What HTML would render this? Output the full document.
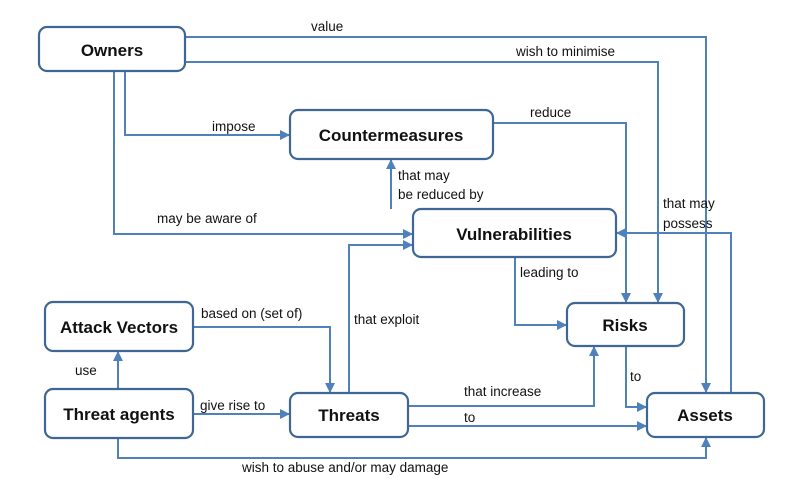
<!DOCTYPE html>
<html><head><meta charset="utf-8"><style>
body{margin:0;background:#fff}
svg{display:block}
text{font-family:"Liberation Sans",sans-serif;fill:#111}
.b{font-weight:bold;font-size:17px;text-anchor:middle}
.l{font-size:13.5px}
.bx{fill:#fff;stroke:#3f6694;stroke-width:2.2}
.ln{fill:none;stroke:#4f81bd;stroke-width:2}
</style></head><body>
<svg width="800" height="489" viewBox="0 0 800 489">
<defs><marker id="a" markerWidth="10" markerHeight="10" refX="9" refY="5" orient="auto" markerUnits="userSpaceOnUse"><path d="M0,0 L10,5 L0,10z" fill="#4f81bd"/></marker></defs>
<g class="ln">
<path d="M185,37 H706 V392" marker-end="url(#a)"/>
<path d="M185,62 H658 V302" marker-end="url(#a)"/>
<path d="M493,123 H626 V302" marker-end="url(#a)"/>
<path d="M125,71 V135 H289" marker-end="url(#a)"/>
<path d="M114,71 V234 H412" marker-end="url(#a)"/>
<path d="M391,209 V160" marker-end="url(#a)"/>
<path d="M731,393 V233 H617" marker-end="url(#a)"/>
<path d="M515,257 V325 H566" marker-end="url(#a)"/>
<path d="M349,393 V245 H412" marker-end="url(#a)"/>
<path d="M193,327 H330 V392" marker-end="url(#a)"/>
<path d="M118,389 V352" marker-end="url(#a)"/>
<path d="M193,414 H289" marker-end="url(#a)"/>
<path d="M408,406 H594 V347" marker-end="url(#a)"/>
<path d="M408,426 H646" marker-end="url(#a)"/>
<path d="M626,346 V407 H646" marker-end="url(#a)"/>
<path d="M118,438 V458 H706 V438" marker-end="url(#a)"/>
</g>
<rect class="bx" x="39" y="27" width="146" height="44" rx="8"/>
<rect class="bx" x="290" y="110" width="203" height="49" rx="8"/>
<rect class="bx" x="413" y="209" width="203" height="48" rx="8"/>
<rect class="bx" x="567" y="303" width="117" height="43" rx="8"/>
<rect class="bx" x="647" y="393" width="117" height="44" rx="8"/>
<rect class="bx" x="45" y="302" width="148" height="49" rx="8"/>
<rect class="bx" x="45" y="389" width="148" height="49" rx="8"/>
<rect class="bx" x="290" y="393" width="118" height="44" rx="8"/>
<text class="b" x="112" y="56">Owners</text>
<text class="b" x="391" y="141">Countermeasures</text>
<text class="b" x="514" y="240">Vulnerabilities</text>
<text class="b" x="625" y="331">Risks</text>
<text class="b" x="705" y="421">Assets</text>
<text class="b" x="119" y="333">Attack Vectors</text>
<text class="b" x="119" y="420">Threat agents</text>
<text class="b" x="349" y="421">Threats</text>
<g class="l">
<text x="311" y="31">value</text>
<text x="516" y="56">wish to minimise</text>
<text x="212" y="131">impose</text>
<text x="530" y="117">reduce</text>
<text x="398" y="180">that may</text>
<text x="398" y="199">be reduced by</text>
<text x="157" y="223">may be aware of</text>
<text x="663" y="208">that may</text>
<text x="663" y="228">possess</text>
<text x="520" y="277">leading to</text>
<text x="201" y="318">based on (set of)</text>
<text x="354" y="324">that exploit</text>
<text x="75" y="375">use</text>
<text x="200" y="410">give rise to</text>
<text x="464" y="396">that increase</text>
<text x="464" y="422">to</text>
<text x="630" y="381">to</text>
<text x="242" y="472">wish to abuse and/or may damage</text>
</g>
</svg>
</body></html>
